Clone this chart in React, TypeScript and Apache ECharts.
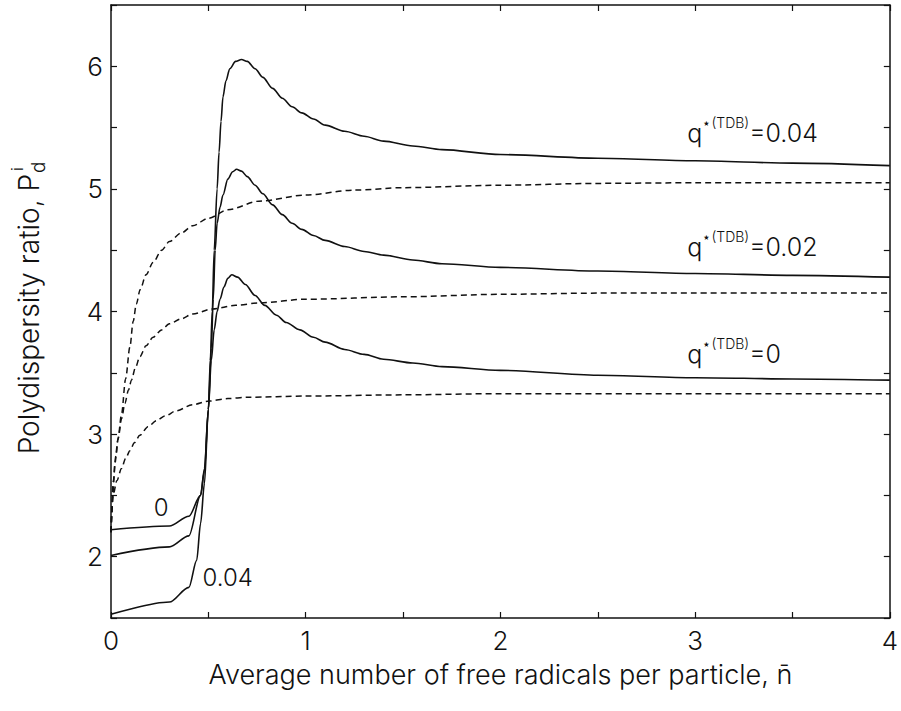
import React, { useEffect, useRef } from "react";
import * as echarts from "echarts";

const FONT = 'Inter, "DejaVu Sans", "Liberation Sans", Arial, sans-serif';
const WEIGHT = 300;
const INK = "#111111";

// q*(TDB) = 0 (solid)
const q0SolidX = [0, 0.3, 0.4, 0.46, 0.48, 0.5, 0.515, 0.53, 0.545, 0.56, 0.58, 0.6, 0.62, 0.65, 0.69, 0.74, 0.79, 0.85, 0.9, 0.97, 1.04, 1.1, 1.2, 1.3, 1.4, 1.55, 1.7, 2.0, 2.5, 3.0, 3.5, 4.0];
const q0SolidY = [2.22, 2.25, 2.33, 2.5, 2.7, 3.2, 3.6, 3.85, 4.0, 4.1, 4.2, 4.27, 4.3, 4.28, 4.22, 4.13, 4.05, 3.97, 3.91, 3.85, 3.79, 3.75, 3.69, 3.65, 3.61, 3.58, 3.55, 3.52, 3.48, 3.46, 3.45, 3.44];
// q*(TDB) = 0.02 (solid)
const q02SolidX = [0, 0.3, 0.4, 0.46, 0.48, 0.5, 0.515, 0.525, 0.535, 0.545, 0.56, 0.575, 0.6, 0.625, 0.645, 0.67, 0.7, 0.74, 0.78, 0.83, 0.88, 0.93, 0.98, 1.04, 1.1, 1.2, 1.3, 1.4, 1.55, 1.7, 2.0, 2.5, 3.0, 3.5, 4.0];
const q02SolidY = [2.01, 2.08, 2.17, 2.5, 2.72, 3.2, 3.7, 4.1, 4.5, 4.72, 4.85, 4.95, 5.08, 5.14, 5.16, 5.145, 5.1, 5.03, 4.96, 4.87, 4.79, 4.72, 4.67, 4.62, 4.58, 4.53, 4.49, 4.46, 4.42, 4.39, 4.36, 4.33, 4.31, 4.295, 4.28];
// q*(TDB) = 0.04 (solid)
const q04SolidX = [0, 0.3, 0.4, 0.44, 0.46, 0.48, 0.5, 0.51, 0.52, 0.53, 0.545, 0.555, 0.565, 0.575, 0.59, 0.61, 0.64, 0.67, 0.7, 0.74, 0.78, 0.83, 0.88, 0.93, 0.98, 1.04, 1.1, 1.2, 1.3, 1.4, 1.55, 1.7, 2.0, 2.5, 3.0, 3.5, 4.0];
const q04SolidY = [1.53, 1.63, 1.75, 1.97, 2.27, 2.6, 3.2, 3.6, 4.0, 4.5, 5.0, 5.3, 5.55, 5.75, 5.88, 5.98, 6.04, 6.055, 6.04, 5.98, 5.91, 5.82, 5.74, 5.67, 5.62, 5.57, 5.52, 5.47, 5.43, 5.39, 5.35, 5.32, 5.28, 5.25, 5.23, 5.21, 5.19];

// dashed curves
const q0DashX = [0, 0.012, 0.03, 0.054, 0.075, 0.097, 0.12, 0.148, 0.19, 0.233, 0.28, 0.335, 0.42, 0.505, 0.6, 0.7, 1.0, 1.5, 2.0, 3.0, 4.0];
const q0DashY = [2.2, 2.51, 2.62, 2.72, 2.8, 2.865, 2.93, 2.99, 3.06, 3.11, 3.15, 3.19, 3.24, 3.27, 3.29, 3.3, 3.31, 3.32, 3.33, 3.33, 3.33];
const q02DashX = [0, 0.012, 0.025, 0.037, 0.055, 0.071, 0.09, 0.105, 0.125, 0.148, 0.18, 0.216, 0.26, 0.3, 0.36, 0.42, 0.52, 0.64, 0.76, 1.0, 1.5, 2.0, 2.5, 3.0, 4.0];
const q02DashY = [2.2, 2.62, 2.82, 2.97, 3.13, 3.25, 3.36, 3.44, 3.54, 3.63, 3.72, 3.79, 3.85, 3.9, 3.94, 3.98, 4.02, 4.05, 4.07, 4.1, 4.12, 4.14, 4.15, 4.15, 4.15];
const q04DashX = [0, 0.01, 0.02, 0.035, 0.054, 0.075, 0.097, 0.114, 0.13, 0.15, 0.18, 0.216, 0.26, 0.3, 0.36, 0.42, 0.5, 0.6, 0.76, 1.0, 1.25, 1.5, 2.0, 2.5, 3.0, 4.0];
const q04DashY = [2.2, 2.5, 2.76, 2.95, 3.16, 3.45, 3.71, 3.92, 4.06, 4.18, 4.3, 4.4, 4.5, 4.57, 4.64, 4.7, 4.76, 4.83, 4.9, 4.95, 4.99, 5.01, 5.03, 5.045, 5.05, 5.05];

// curve labels
const qLabelTexts = ["0.04", "0.02", "0"];
const qLabelX = [2.96, 2.96, 2.96];
const qLabelY = [5.48, 4.55, 3.67];
const sideLabelTexts = ["0", "0.04"];
const sideLabelX = [0.22, 0.47];
const sideLabelY = [2.4, 1.83];

const xTickLabels = [0, 1, 2, 3, 4];
const yTickLabels = [2, 3, 4, 5, 6];

const zip = (xs: number[], ys: number[]) => xs.map((x, i) => [x, ys[i]]);

const solid = (name: string, xs: number[], ys: number[]) => ({
  name,
  type: "line",
  data: zip(xs, ys),
  showSymbol: false,
  symbol: "none",
  smooth: 0.3,
  smoothMonotone: "x",
  lineStyle: { color: INK, width: 1.6, type: "solid" },
  z: 3,
});
const dashed = (name: string, xs: number[], ys: number[]) => ({
  name,
  type: "line",
  data: zip(xs, ys),
  showSymbol: false,
  symbol: "none",
  smooth: 0.3,
  smoothMonotone: "x",
  lineStyle: { color: INK, width: 1.5, type: [6, 4] },
  z: 2,
});

const axisCommon = {
  type: "value",
  axisLine: { show: true, onZero: false, lineStyle: { color: INK, width: 1.5 } },
  axisTick: { show: true, inside: true, length: 6, lineStyle: { color: INK, width: 1.2 } },
  splitLine: { show: false },
};

export default function App() {
  const ref = useRef<HTMLDivElement>(null);
  useEffect(() => {
    const chart = echarts.init(ref.current!, null, { renderer: "svg" });
    const option = {
      animation: false,
      backgroundColor: "#ffffff",
      grid: { left: 111, right: 6, top: 5, bottom: 93, containLabel: false },
      xAxis: [
        {
          ...axisCommon,
          position: "bottom",
          min: 0,
          max: 4,
          interval: 0.5,
          axisLabel: {
            show: true,
            margin: 9,
            fontSize: 26,
            fontFamily: FONT,
            fontWeight: WEIGHT,
            color: INK,
            formatter: (v: number) => (xTickLabels.includes(v) ? String(v) : ""),
          },
          name: "Average number of free radicals per particle, n\u0304",
          nameLocation: "middle",
          nameGap: 43,
          nameTextStyle: { fontSize: 27, fontFamily: FONT, fontWeight: WEIGHT, color: INK, verticalAlign: "top" },
        },
        {
          ...axisCommon,
          position: "top",
          min: 0,
          max: 4,
          interval: 0.5,
          axisLabel: { show: false },
        },
      ],
      yAxis: [
        {
          ...axisCommon,
          position: "left",
          min: 1.5,
          max: 6.5,
          interval: 0.5,
          axisLabel: {
            show: true,
            margin: 8,
            fontSize: 26,
            fontFamily: FONT,
            fontWeight: WEIGHT,
            color: INK,
            formatter: (v: number) => (yTickLabels.includes(v) ? String(v) : ""),
          },
        },
        {
          ...axisCommon,
          position: "right",
          min: 1.5,
          max: 6.5,
          interval: 0.5,
          axisLabel: { show: false },
        },
      ],
      graphic: [
        {
          type: "group",
          x: 29,
          y: 174,
          rotation: Math.PI / 2,
          children: [
            {
              type: "text",
              x: 0,
              y: 0,
              style: {
                text: "Polydispersity ratio, P",
                align: "right",
                verticalAlign: "middle",
                fontSize: 28,
                fontFamily: FONT,
                fontWeight: WEIGHT,
                fill: INK,
              },
            },
            {
              type: "text",
              x: 1,
              y: 9,
              style: { text: "d", align: "left", verticalAlign: "middle", fontSize: 19, fontFamily: FONT, fontWeight: WEIGHT, fill: INK },
            },
            {
              type: "text",
              x: 3,
              y: -12,
              style: { text: "i", align: "left", verticalAlign: "middle", fontSize: 16, fontFamily: FONT, fontWeight: WEIGHT, fill: INK },
            },
          ],
        },
      ],
      series: [
        solid("q0", q0SolidX, q0SolidY),
        solid("q0.02", q02SolidX, q02SolidY),
        solid("q0.04", q04SolidX, q04SolidY),
        dashed("q0 dashed", q0DashX, q0DashY),
        dashed("q0.02 dashed", q02DashX, q02DashY),
        dashed("q0.04 dashed", q04DashX, q04DashY),
        {
          name: "qLabels",
          type: "scatter",
          symbolSize: 0,
          itemStyle: { opacity: 1 },
          data: qLabelTexts.map((t, i) => ({ value: [qLabelX[i], qLabelY[i]], t })),
          label: {
            show: true,
            position: "right",
            distance: 0,
            opacity: 1,
            formatter: (p: any) => `{q|q}{s|\u22C6(TDB)}{q|=${p.data.t}}`,
            rich: {
              q: { fontSize: 25, fontFamily: FONT, fontWeight: WEIGHT, color: INK, lineHeight: 30, verticalAlign: "bottom" },
              s: { fontSize: 14, fontFamily: FONT, fontWeight: WEIGHT, color: INK, lineHeight: 14, verticalAlign: "top" },
            },
          },
          z: 5,
        },
        {
          name: "sideLabels",
          type: "scatter",
          symbolSize: 0,
          itemStyle: { opacity: 1 },
          data: sideLabelTexts.map((t, i) => ({ value: [sideLabelX[i], sideLabelY[i]], t })),
          label: {
            show: true,
            position: "right",
            distance: 0,
            opacity: 1,
            formatter: (p: any) => p.data.t,
            fontSize: 24,
            fontFamily: FONT,
            fontWeight: WEIGHT,
            color: INK,
          },
          z: 5,
        },
      ],
    };
    chart.setOption(option as any);
    return () => chart.dispose();
  }, []);
  return (
    <div
      ref={ref}
      style={{ position: "absolute", left: 0, top: 0, width: 901, height: 711, background: "#fff" }}
    />
  );
}
